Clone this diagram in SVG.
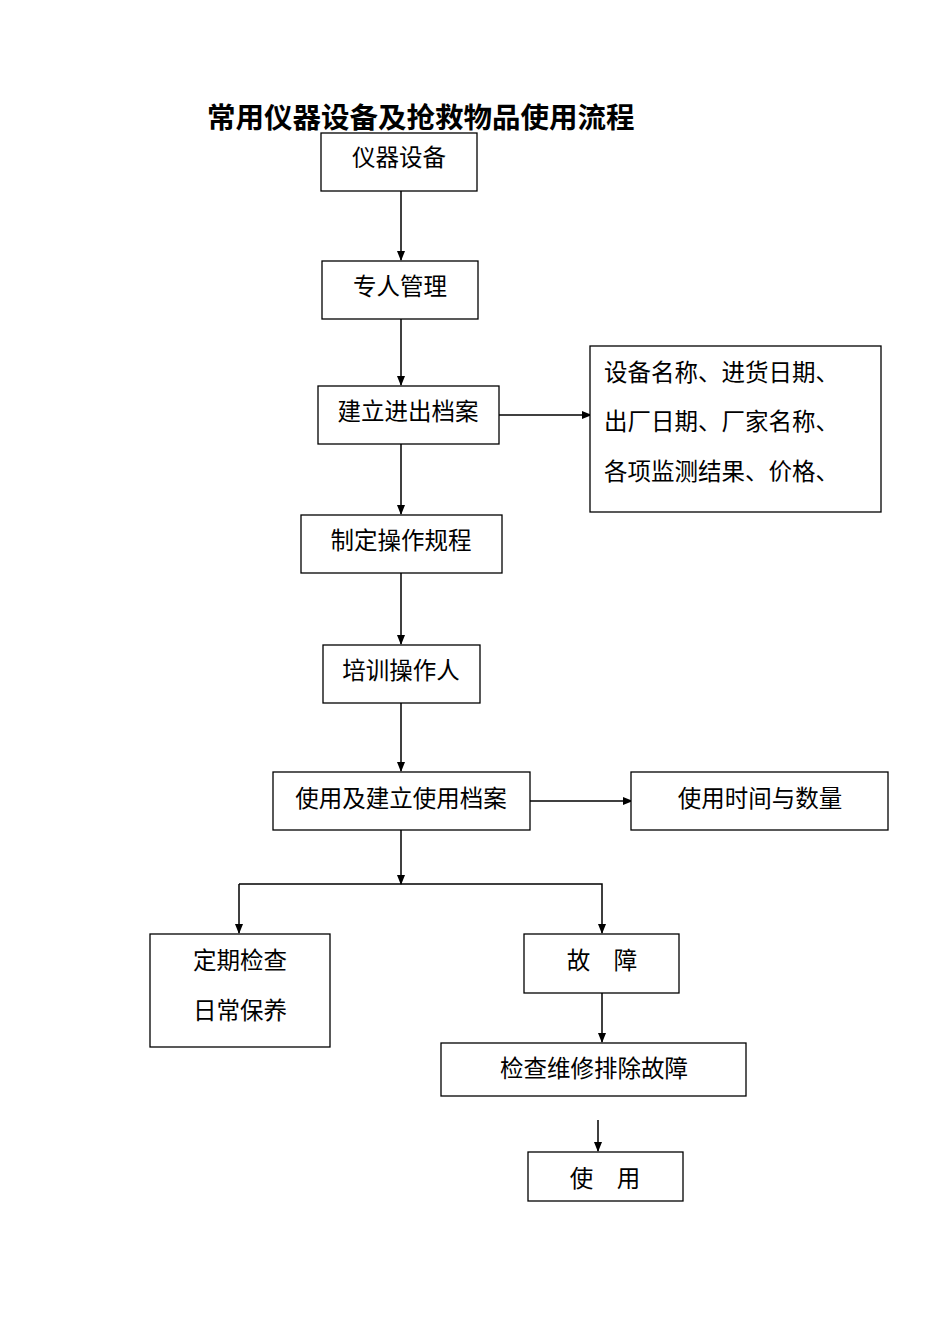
<svg xmlns="http://www.w3.org/2000/svg" width="950" height="1344" viewBox="0 0 950 1344">
<defs><marker id="a" markerWidth="10" markerHeight="8" refX="9" refY="4" orient="auto" markerUnits="userSpaceOnUse"><path d="M0,0 L10,4 L0,8 z" fill="#000"/></marker></defs>
<style>
rect{fill:#fff;stroke:#000;stroke-width:1.3}
text{font-family:"Noto Sans CJK SC","Noto Sans CJK JP",sans-serif;font-size:23.5px;fill:#000}
.c line,.c path{stroke:#000;stroke-width:1.5;fill:none}
</style>
<rect width="950" height="1344" style="stroke:none"/>
<text x="207" y="128" style="font-size:28.5px;font-weight:bold">常用仪器设备及抢救物品使用流程</text>
<g class="c">
<line x1="401" y1="191" x2="401" y2="260" marker-end="url(#a)"/>
<line x1="401" y1="319" x2="401" y2="385" marker-end="url(#a)"/>
<line x1="401" y1="444" x2="401" y2="514" marker-end="url(#a)"/>
<line x1="401" y1="573" x2="401" y2="644" marker-end="url(#a)"/>
<line x1="401" y1="703" x2="401" y2="771" marker-end="url(#a)"/>
<line x1="499" y1="415" x2="591" y2="415" marker-end="url(#a)"/>
<line x1="530" y1="801" x2="632" y2="801" marker-end="url(#a)"/>
<line x1="401" y1="830" x2="401" y2="884" marker-end="url(#a)"/>
<path d="M239,884 H602 V933" marker-end="url(#a)"/>
<line x1="239" y1="884" x2="239" y2="933" marker-end="url(#a)"/>
<line x1="602" y1="993" x2="602" y2="1042" marker-end="url(#a)"/>
<line x1="598" y1="1120" x2="598" y2="1151" marker-end="url(#a)"/>
</g>
<g id="n1"><rect x="321" y="133" width="156" height="58"/><text x="399" y="166" text-anchor="middle">仪器设备</text></g>
<g id="n2"><rect x="322" y="261" width="156" height="58"/><text x="400" y="295" text-anchor="middle">专人管理</text></g>
<g id="n3"><rect x="318" y="386" width="181" height="58"/><text x="408" y="420" text-anchor="middle">建立进出档案</text></g>
<g id="n4"><rect x="590" y="346" width="291" height="166"/>
<text x="604" y="381">设备名称、进货日期、</text><text x="604" y="430">出厂日期、厂家名称、</text><text x="604" y="480">各项监测结果、价格、</text></g>
<g id="n5"><rect x="301" y="515" width="201" height="58"/><text x="401" y="549" text-anchor="middle">制定操作规程</text></g>
<g id="n6"><rect x="323" y="645" width="157" height="58"/><text x="401" y="679" text-anchor="middle">培训操作人</text></g>
<g id="n7"><rect x="273" y="772" width="257" height="58"/><text x="401" y="807" text-anchor="middle">使用及建立使用档案</text></g>
<g id="n8"><rect x="631" y="772" width="257" height="58"/><text x="760" y="807" text-anchor="middle">使用时间与数量</text></g>
<g id="n9"><rect x="150" y="934" width="180" height="113"/><text x="240" y="969" text-anchor="middle">定期检查</text><text x="240" y="1019" text-anchor="middle">日常保养</text></g>
<g id="n10"><rect x="524" y="934" width="155" height="59"/><text x="602" y="969" text-anchor="middle">故　障</text></g>
<g id="n11"><rect x="441" y="1043" width="305" height="53"/><text x="594" y="1077" text-anchor="middle">检查维修排除故障</text></g>
<g id="n12"><rect x="528" y="1152" width="155" height="49"/><text x="605" y="1187" text-anchor="middle">使　用</text></g>
</svg>
